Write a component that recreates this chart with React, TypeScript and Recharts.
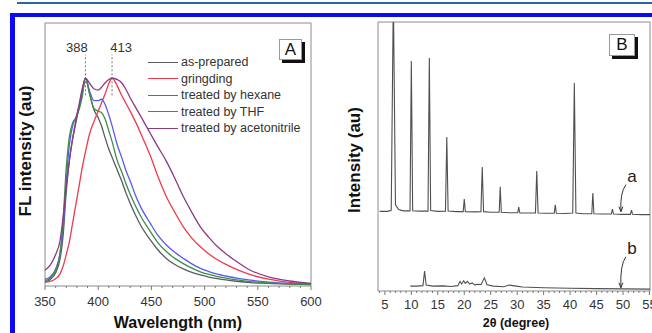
import {
  LineChart,
  Line,
  XAxis,
  YAxis,
  ReferenceArea,
  ReferenceLine,
  ReferenceDot,
} from "recharts";

const FONT = '"Liberation Sans", Arial, Helvetica, sans-serif';

// ---- panel A: fluorescence spectra ----
const wavelengths = [
  350, 355, 360, 364, 367, 370, 373, 376, 379, 382, 385, 388, 392, 396, 400, 403, 406, 410, 413, 418,
  422, 426, 430, 435, 440, 449, 456, 464, 472, 480, 488, 496, 504, 512, 520, 530, 543, 560, 580, 600,
];
const asPrepared = [
  1.5, 2.5, 5, 10, 19, 36, 48, 56, 62, 68, 74, 79, 73, 67, 64, 61, 57, 52, 49, 44,
  40, 35.5, 31.5, 27, 23, 17.5, 13.8, 10.5, 8.2, 6.5, 5.2, 4.2, 3.4, 2.8, 2.3, 1.8, 1.3, 1.0, 0.7, 0.5,
];
const gringding = [
  1.5, 1.8, 2.8, 4.5, 7.5, 12, 17, 24, 31, 38, 45, 51, 58, 62.5, 66.5, 69.5, 72.5, 77, 79, 76,
  72.5, 69.5, 66.5, 62.5, 58, 49.5, 41.8, 34, 28, 22.5, 18.2, 14.9, 12.2, 10, 8.2, 6.3, 4.3, 2.6, 1.4, 0.8,
];
const hexane = [
  2.5, 3.5, 6.5, 12, 22, 40, 54, 61, 64, 68, 73, 79, 74, 70.5, 70.5, 71, 69.5, 65, 61, 53.5,
  49, 44, 40, 34.5, 30, 23.8, 19.3, 15.6, 12.8, 10.5, 8.4, 6.7, 5.5, 4.5, 3.8, 3.0, 2.2, 1.5, 1.0, 0.7,
];
const thf = [
  2, 3, 6, 12, 25, 45, 57, 62, 64, 67, 72, 79, 73, 67.5, 66.5, 66, 64, 59, 55, 47.5,
  43.5, 39, 35, 30.5, 26.5, 20.7, 16.5, 13.1, 10.5, 8.5, 6.8, 5.4, 4.4, 3.6, 3.0, 2.3, 1.7, 1.2, 0.8, 0.6,
];
const acetonitrile = [
  6, 8, 12, 17, 26, 38, 48, 56, 63, 69, 75, 79, 77, 75, 74.5, 75.5, 77, 78.5, 79, 78.5,
  77.3, 74.8, 71.6, 68, 64.5, 58, 53, 47.5, 41, 34, 28, 22.5, 18.5, 15, 12.3, 9.3, 6, 3.5, 1.9, 1.0,
];
const flTicks = [
  350, 360, 370, 380, 390, 400, 410, 420, 430, 440, 450, 460, 470, 480, 490, 500, 510, 520, 530, 540,
  550, 560, 570, 580, 590, 600,
];
const flMajor = [350, 400, 450, 500, 550, 600];
const peakMarks = [388, 413];

const flSeries = [
  { key: "asPrepared", name: "as-prepared", color: "#5a5a62" },
  { key: "gringding", name: "gringding", color: "#ee3a4c" },
  { key: "hexane", name: "treated by hexane", color: "#5a5aee" },
  { key: "thf", name: "treated by THF", color: "#3b8f45" },
  { key: "acetonitrile", name: "treated by acetonitrile", color: "#8b3a86" },
];

const flData = wavelengths.map((w, i) => ({
  w,
  asPrepared: asPrepared[i],
  gringding: gringding[i],
  hexane: hexane[i],
  thf: thf[i],
  acetonitrile: acetonitrile[i],
}));

// ---- panel B: XRD patterns ----
const xrdATheta = [
  4.0, 5.5, 6.2, 6.6, 7.0, 7.6, 8.5, 9.75, 10.0, 10.25, 11.5, 13.15, 13.4, 13.65, 15.0, 16.45, 16.7,
  16.95, 18.5, 19.8, 20.0, 20.2, 22.0, 23.15, 23.4, 23.65, 25.0, 26.6, 26.8, 27.0, 28.5, 30.1, 30.3,
  30.5, 32.0, 33.45, 33.7, 33.95, 35.5, 37.0, 37.2, 37.4, 39.0, 40.5, 40.8, 41.1, 42.5, 44.1, 44.3,
  44.5, 46.0, 47.8, 48.0, 48.2, 50.0, 51.4, 51.6, 51.8, 53.5, 55.1,
];
const xrdAIntensity = [
  29.6, 29.6, 30.0, 110, 32.0, 30.3, 29.8, 29.8, 85.5, 29.8, 29.7, 29.7, 86.6, 29.9, 29.6, 29.7, 57.2,
  29.7, 29.5, 29.5, 34.2, 29.5, 29.4, 29.5, 46.1, 29.5, 29.3, 29.3, 38.7, 29.3, 29.1, 29.1, 31.2,
  29.0, 29.0, 29.0, 44.6, 29.0, 28.9, 28.9, 32.0, 28.9, 28.8, 29.0, 77.3, 29.0, 28.7, 28.7, 36.4,
  28.7, 28.6, 28.6, 30.4, 28.6, 28.5, 28.5, 30.1, 28.5, 28.4, 28.4,
];
const xrdBTheta = [
  9.8, 11.0, 12.2, 12.5, 12.8, 14.0, 16.0, 17.5, 18.8, 19.2, 19.5, 19.9, 20.2, 20.6, 21.0, 21.5, 22.0,
  22.5, 23.2, 23.8, 24.3, 25.5, 27.5, 28.5, 29.5, 31.0, 35.0, 40.0, 45.0, 50.0, 55.1,
];
const xrdBIntensity = [
  1.8, 1.8, 2.0, 7.4, 2.2, 1.8, 1.9, 1.7, 2.0, 3.6, 2.6, 3.8, 2.8, 3.6, 2.6, 3.0, 2.2,
  2.5, 2.4, 4.9, 2.3, 1.8, 1.6, 2.2, 1.9, 1.5, 1.2, 1.0, 0.9, 0.8, 0.7,
];
const xrdTicks = [
  4, 5, 6, 7, 8, 9, 10, 11, 12, 13, 14, 15, 16, 17, 18, 19, 20, 21, 22, 23, 24, 25, 26, 27, 28, 29,
  30, 31, 32, 33, 34, 35, 36, 37, 38, 39, 40, 41, 42, 43, 44, 45, 46, 47, 48, 49, 50, 51, 52, 53, 54, 55,
];
const xrdMajor = [5, 10, 15, 20, 25, 30, 35, 40, 45, 50, 55];
const xrdArrows = [
  { label: "a", theta: 49.6, value: 29.5, rise: 27 },
  { label: "b", theta: 49.6, value: 1.2, rise: 31 },
];

const xrdA = xrdATheta.map((t, i) => ({ t, v: xrdAIntensity[i] }));
const xrdB = xrdBTheta.map((t, i) => ({ t, v: xrdBIntensity[i] }));

function makeTick(major: number[], offset: number, fontSize: number) {
  return (props: any) => {
    const { x, y, payload } = props;
    const isMajor = major.includes(payload.value);
    const y0 = y - offset;
    return (
      <g>
        <line x1={x} x2={x} y1={y0} y2={y0 + (isMajor ? 4 : 2)} stroke="#777" strokeWidth={1} />
        {isMajor && (
          <text x={x} y={y} dy="0.71em" textAnchor="middle" fontSize={fontSize} fill="#333" fontFamily={FONT}>
            {payload.value}
          </text>
        )}
      </g>
    );
  };
}

function PanelBox({ letter, left, top, w, h }: { letter: string; left: number; top: number; w: number; h: number }) {
  return (
    <div
      style={{
        position: "absolute",
        left,
        top,
        width: w,
        height: h,
        border: "1px solid #999",
        boxShadow: "3px 3px 0 #111",
        background: "#fff",
        fontSize: 17,
        lineHeight: `${h}px`,
        textAlign: "center",
        color: "#111",
      }}
    >
      {letter}
    </div>
  );
}

export default function App() {
  return (
    <div
      style={{
        position: "absolute",
        left: 0,
        top: 0,
        width: 652,
        height: 333,
        background: "#fff",
        overflow: "hidden",
        fontFamily: FONT,
      }}
    >
      {/* page frame */}
      <div style={{ position: "absolute", left: 17, right: 0, top: 2, height: 2, background: "#2f63a6" }} />
      <div style={{ position: "absolute", left: 10, right: 0, top: 13, height: 4, background: "#0b0bf2" }} />
      <div style={{ position: "absolute", left: 10, width: 5, top: 13, bottom: 0, background: "#0b0bf2" }} />

      {/* panel A */}
      <div style={{ position: "absolute", left: 0, top: 0 }}>
        <LineChart width={332} height={333} data={flData} margin={{ top: 23, right: 21, left: 45, bottom: 0 }}>
          <XAxis
            dataKey="w"
            type="number"
            domain={[350, 600]}
            ticks={flTicks}
            interval={0}
            height={47}
            axisLine={false}
            tickLine={false}
            tickSize={0}
            tickMargin={11}
            tick={makeTick(flMajor, 11, 13)}
          />
          <YAxis hide domain={[0, 100]} />
          <ReferenceArea x1={350} x2={600} y1={0} y2={100} fill="none" stroke="#8c8c8c" strokeWidth={1} />
          {peakMarks.map((p) => (
            <ReferenceLine
              key={p}
              segment={[
                { x: p, y: 72.5 },
                { x: p, y: 88 },
              ]}
              stroke="#777"
              strokeDasharray="2 2"
            />
          ))}
          {peakMarks.map((p, i) => (
            <ReferenceDot
              key={`lbl${p}`}
              x={p}
              y={88}
              r={0}
              shape={(s: any) => (
                <text x={s.cx + (i === 0 ? -8.5 : 9)} y={s.cy - 3} textAnchor="middle" fontSize={13} fill="#333" fontFamily={FONT}>
                  {p}
                </text>
              )}
            />
          ))}
          {flSeries.map((s) => (
            <Line
              key={s.key}
              type="monotone"
              dataKey={s.key}
              stroke={s.color}
              strokeWidth={1.3}
              dot={false}
              isAnimationActive={false}
            />
          ))}
        </LineChart>
      </div>

      {/* legend A */}
      <div style={{ position: "absolute", left: 148, top: 54 }}>
        {flSeries.map((s) => (
          <div key={s.key} style={{ display: "flex", alignItems: "center", height: 16.5 }}>
            <div style={{ width: 30, height: 1.3, background: s.color, marginRight: 3 }} />
            <span style={{ fontSize: 12.5, color: "#333", whiteSpace: "nowrap" }}>{s.name}</span>
          </div>
        ))}
      </div>

      <PanelBox letter="A" left={279} top={39} w={21} h={19} />

      <div
        style={{
          position: "absolute",
          left: 26,
          top: 151,
          transform: "translate(-50%, -50%) rotate(-90deg)",
          whiteSpace: "nowrap",
          fontWeight: "bold",
          fontSize: 17,
          color: "#111",
        }}
      >
        FL intensity (au)
      </div>
      <div
        style={{
          position: "absolute",
          left: 178,
          top: 323,
          transform: "translate(-50%, -50%)",
          whiteSpace: "nowrap",
          fontWeight: "bold",
          fontSize: 16,
          color: "#111",
        }}
      >
        Wavelength (nm)
      </div>

      {/* panel B */}
      <div style={{ position: "absolute", left: 330, top: 0 }}>
        <LineChart width={322} height={333} margin={{ top: 22, right: 2, left: 48, bottom: 0 }}>
          <XAxis
            dataKey="t"
            type="number"
            domain={[3.7, 55.1]}
            ticks={xrdTicks}
            interval={0}
            height={42}
            axisLine={false}
            tickLine={false}
            tickSize={0}
            tickMargin={9}
            tick={makeTick(xrdMajor, 9, 13)}
            allowDataOverflow
          />
          <YAxis hide domain={[0, 100]} allowDataOverflow />
          <ReferenceArea x1={3.7} x2={55.1} y1={0} y2={100} fill="none" stroke="#8c8c8c" strokeWidth={1} />
          <Line data={xrdA} type="linear" dataKey="v" stroke="#505050" strokeWidth={1.1} dot={false} isAnimationActive={false} />
          <Line data={xrdB} type="linear" dataKey="v" stroke="#505050" strokeWidth={1.1} dot={false} isAnimationActive={false} />
          {xrdArrows.map((a) => (
            <ReferenceDot
              key={a.label}
              x={a.theta}
              y={a.value}
              r={0}
              shape={(s: any) => {
                const cx = s.cx;
                const cy = s.cy;
                return (
                  <g>
                    <path
                      d={`M${cx + 5},${cy - a.rise} Q${cx - 1},${cy - a.rise + 8} ${cx},${cy}`}
                      fill="none"
                      stroke="#333"
                      strokeWidth={1}
                    />
                    <path d={`M${cx - 2},${cy - 5} L${cx},${cy} L${cx + 2},${cy - 5}`} fill="none" stroke="#333" strokeWidth={1} />
                    <text x={cx + 11} y={cy - a.rise - 3} textAnchor="middle" fontSize={17} fill="#222" fontFamily={FONT}>
                      {a.label}
                    </text>
                  </g>
                );
              }}
            />
          ))}
        </LineChart>
      </div>

      <PanelBox letter="B" left={609} top={34} w={24} h={20} />

      <div
        style={{
          position: "absolute",
          left: 355,
          top: 160,
          transform: "translate(-50%, -50%) rotate(-90deg)",
          whiteSpace: "nowrap",
          fontWeight: "bold",
          fontSize: 17,
          color: "#111",
        }}
      >
        Intensity (au)
      </div>
      <div
        style={{
          position: "absolute",
          left: 516,
          top: 323,
          transform: "translate(-50%, -50%)",
          whiteSpace: "nowrap",
          fontWeight: "bold",
          fontSize: 12.5,
          color: "#111",
        }}
      >
        2θ (degree)
      </div>
    </div>
  );
}
